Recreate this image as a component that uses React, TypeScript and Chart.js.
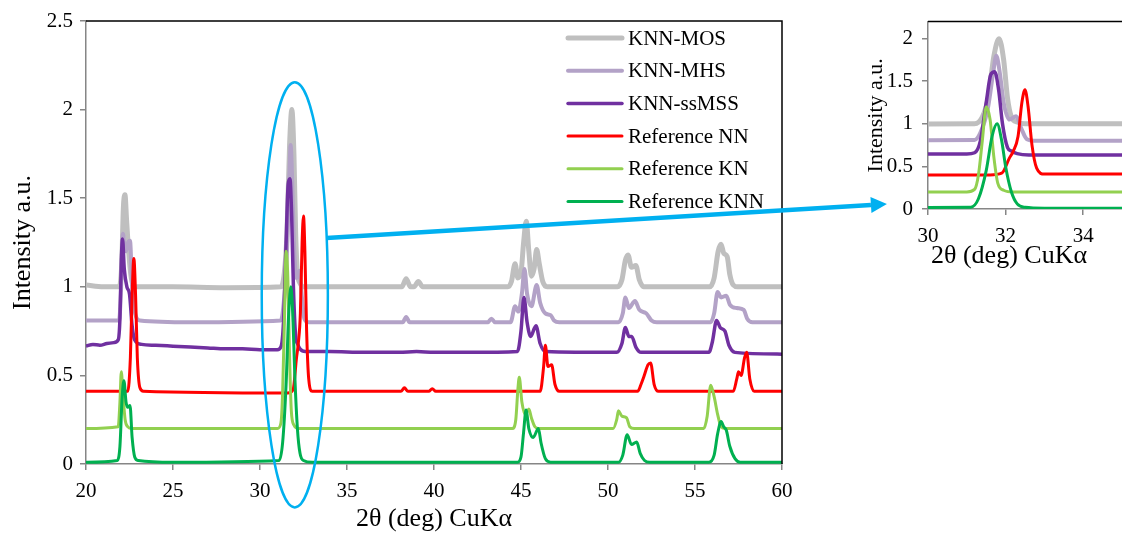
import React, { useEffect, useRef } from 'react';
import { Chart, registerables } from 'chart.js';
Chart.register(...registerables);

const FONT = "'Liberation Serif', 'Times New Roman', serif";

const seriesNames = ['KNN-MOS', 'KNN-MHS', 'KNN-ssMSS', 'Reference NN', 'Reference KN', 'Reference KNN'];
const seriesColors = ['#BFBFBF', '#B3A2C7', '#7030A0', '#FF0000', '#92D050', '#00B050'];
const seriesWidths = [5, 4, 3.5, 3, 3, 3];
const legendWidths = [5, 4, 3.5, 3, 3, 3];

const xTicksMain = [20, 25, 30, 35, 40, 45, 50, 55, 60];
const yTicksMain = [0, 0.5, 1, 1.5, 2, 2.5];
const xTicksInset = [30, 32, 34];
const yTicksInset = [0, 0.5, 1, 1.5, 2];

const knnMOS: [number, number][] = [
  [20, 1.01], [21, 1.0], [21.9, 1.0], [22.05, 1.12], [22.15, 1.45], [22.24, 1.52], [22.33, 1.38], [22.45, 1.2], [22.6, 1.05], [22.8, 1.0],
  [25, 1.0], [28, 0.995], [31.2, 1.0], [31.4, 1.08], [31.55, 1.3], [31.7, 1.8], [31.83, 2.0], [31.95, 1.75], [32.05, 1.3], [32.15, 1.08], [32.3, 1.02], [32.5, 1.0],
  [35, 1.0], [38.15, 1.0], [38.4, 1.045], [38.65, 1.0], [38.85, 1.0], [39.1, 1.03], [39.35, 1.0],
  [44.25, 1.0], [44.45, 1.03], [44.66, 1.13], [44.82, 1.05], [45.0, 1.08], [45.15, 1.25], [45.3, 1.37], [45.45, 1.2], [45.6, 1.06], [45.75, 1.1], [45.9, 1.21], [46.05, 1.13], [46.25, 1.03], [46.5, 1.0],
  [50.55, 1.0], [50.8, 1.04], [51.0, 1.15], [51.15, 1.18], [51.35, 1.11], [51.6, 1.12], [51.8, 1.04], [52.05, 1.0],
  [55.85, 1.0], [56.1, 1.05], [56.33, 1.2], [56.5, 1.24], [56.65, 1.19], [56.85, 1.17], [57.0, 1.07], [57.2, 1.01], [57.45, 1.0], [60, 1.0],
];

const knnMHS: [number, number][] = [
  [20, 0.81], [21.9, 0.81], [22.0, 0.95], [22.12, 1.3], [22.22, 1.22], [22.3, 1.2], [22.42, 1.25], [22.53, 1.26], [22.65, 1.0], [22.8, 0.86], [23.1, 0.81],
  [26, 0.8], [31.2, 0.81], [31.4, 0.95], [31.55, 1.2], [31.68, 1.6], [31.76, 1.8], [31.85, 1.6], [31.95, 1.25], [32.1, 1.05], [32.27, 1.09], [32.4, 0.95], [32.55, 0.82], [32.8, 0.8],
  [38.2, 0.8], [38.4, 0.83], [38.6, 0.8], [43.1, 0.8], [43.3, 0.82], [43.5, 0.8],
  [44.4, 0.8], [44.66, 0.89], [44.85, 0.86], [45.05, 0.96], [45.2, 1.1], [45.35, 0.96], [45.6, 0.89], [45.9, 1.01], [46.1, 0.91], [46.4, 0.85], [46.7, 0.84], [46.9, 0.81], [47.2, 0.8],
  [50.6, 0.8], [50.85, 0.85], [51.0, 0.94], [51.2, 0.88], [51.55, 0.92], [51.8, 0.87], [52.2, 0.85], [52.5, 0.81], [52.8, 0.8],
  [55.9, 0.8], [56.1, 0.85], [56.3, 0.97], [56.5, 0.94], [56.8, 0.95], [57.0, 0.9], [57.4, 0.88], [57.8, 0.87], [58.0, 0.82], [58.3, 0.8], [60, 0.8],
];

const knnSSMSS: [number, number][] = [
  [20, 0.665], [20.4, 0.675], [20.8, 0.67], [21.2, 0.68], [21.6, 0.685], [21.85, 0.7], [21.95, 0.82], [22.03, 1.15], [22.1, 1.27], [22.2, 1.1], [22.35, 1.0], [22.5, 0.96], [22.65, 0.78], [22.8, 0.7], [23.2, 0.675],
  [24, 0.67], [25, 0.665], [26, 0.66], [27, 0.655], [28, 0.65], [29, 0.65], [30, 0.645], [31.0, 0.645],
  [31.2, 0.66], [31.35, 0.8], [31.5, 1.25], [31.62, 1.58], [31.72, 1.61], [31.82, 1.4], [31.92, 1.0], [32.05, 0.72], [32.15, 0.68], [32.3, 0.65], [32.6, 0.635],
  [34, 0.635], [36, 0.63], [38, 0.63], [39, 0.635], [40, 0.63], [42, 0.63],
  [44.8, 0.635], [45.0, 0.75], [45.17, 0.94], [45.35, 0.8], [45.55, 0.72], [45.86, 0.78], [46.1, 0.68], [46.4, 0.635],
  [50.5, 0.63], [50.8, 0.68], [51.0, 0.77], [51.2, 0.72], [51.36, 0.72], [51.6, 0.66], [51.9, 0.63],
  [55.8, 0.63], [56.0, 0.69], [56.24, 0.81], [56.45, 0.77], [56.72, 0.75], [56.95, 0.67], [57.3, 0.63], [60, 0.62],
];

const refNN: [number, number][] = [
  [20, 0.41], [22.4, 0.41], [22.55, 0.6], [22.65, 0.95], [22.75, 1.16], [22.85, 0.95], [22.95, 0.6], [23.1, 0.43], [23.3, 0.41],
  [31.6, 0.4], [31.9, 0.42], [32.1, 0.6], [32.2, 0.68], [32.32, 0.85], [32.42, 1.25], [32.5, 1.4], [32.58, 1.2], [32.68, 0.75], [32.8, 0.48], [33.0, 0.41],
  [38.1, 0.41], [38.3, 0.43], [38.5, 0.41], [39.7, 0.41], [39.9, 0.425], [40.1, 0.41],
  [46.1, 0.41], [46.3, 0.55], [46.4, 0.67], [46.55, 0.55], [46.76, 0.56], [46.95, 0.45], [47.2, 0.41],
  [51.7, 0.41], [51.9, 0.45], [52.05, 0.49], [52.3, 0.56], [52.45, 0.57], [52.65, 0.45], [52.9, 0.41],
  [57.2, 0.41], [57.4, 0.48], [57.5, 0.52], [57.65, 0.5], [57.85, 0.6], [57.97, 0.63], [58.15, 0.48], [58.4, 0.41], [60, 0.41],
];

const refKN: [number, number][] = [
  [20, 0.2], [21.85, 0.21], [21.95, 0.35], [22.03, 0.52], [22.12, 0.4], [22.25, 0.25], [22.4, 0.21], [22.6, 0.2],
  [31.0, 0.2], [31.2, 0.23], [31.3, 0.4], [31.4, 0.8], [31.5, 1.2], [31.6, 1.05], [31.7, 0.6], [31.8, 0.3], [31.95, 0.22], [32.2, 0.2],
  [44.5, 0.2], [44.7, 0.25], [44.82, 0.42], [44.9, 0.49], [45.05, 0.35], [45.25, 0.28], [45.45, 0.31], [45.6, 0.26], [45.8, 0.21], [46.0, 0.2],
  [50.3, 0.2], [50.5, 0.25], [50.6, 0.3], [50.8, 0.27], [51.07, 0.26], [51.25, 0.21], [51.5, 0.2],
  [55.5, 0.2], [55.7, 0.27], [55.9, 0.445], [56.1, 0.38], [56.3, 0.28], [56.5, 0.21], [56.7, 0.2], [60, 0.2],
];

const refKNN: [number, number][] = [
  [20, 0.01], [21.8, 0.02], [21.95, 0.1], [22.08, 0.38], [22.18, 0.47], [22.3, 0.35], [22.4, 0.32], [22.53, 0.33], [22.65, 0.15], [22.8, 0.04], [23.0, 0.02], [25, 0.01],
  [31.1, 0.02], [31.3, 0.12], [31.5, 0.45], [31.65, 0.85], [31.78, 1.0], [31.9, 0.8], [32.0, 0.5], [32.15, 0.2], [32.3, 0.06], [32.5, 0.02], [33, 0.01],
  [44.8, 0.01], [45.0, 0.04], [45.15, 0.18], [45.29, 0.305], [45.45, 0.2], [45.7, 0.15], [46.0, 0.2], [46.15, 0.12], [46.4, 0.03], [46.7, 0.01],
  [50.6, 0.01], [50.85, 0.05], [51.1, 0.165], [51.35, 0.11], [51.65, 0.124], [51.85, 0.06], [52.1, 0.02], [52.4, 0.01],
  [55.8, 0.01], [56.1, 0.05], [56.3, 0.17], [56.5, 0.24], [56.65, 0.21], [56.8, 0.19], [57.0, 0.1], [57.3, 0.03], [57.6, 0.01], [60, 0.01],
];

const seriesData = [knnMOS, knnMHS, knnSSMSS, refNN, refKN, refKNN];

// annotation (data coordinates of the main chart)
const ellipseCenter = [32.0, 0.955];
const ellipseRadii = [1.9, 1.2];
const arrowFrom = [33.82, 1.275];
const arrowTo = [66.03, 1.467];

const AXIS_GRAY = '#868686';
const CALLOUT = '#00B0F0';

function makeDatasets() {
  return seriesNames.map((name, i) => ({
    label: name,
    data: seriesData[i].map(([x, y]) => ({ x, y })),
    borderColor: seriesColors[i],
    backgroundColor: seriesColors[i],
    borderWidth: seriesWidths[i],
    pointRadius: 0,
    fill: false,
    cubicInterpolationMode: 'monotone' as const,
    order: seriesNames.length - i,
  }));
}

function axisCommon(tickFontSize: number, pad: number) {
  return {
    type: 'linear' as const,
    grid: { display: true, drawOnChartArea: false, drawTicks: true, tickLength: 6, color: AXIS_GRAY, lineWidth: 1.5 },
    border: { display: true, color: AXIS_GRAY, width: 1.5 },
    ticks: {
      color: '#000',
      font: { family: FONT, size: tickFontSize },
      padding: pad,
      maxRotation: 0,
      autoSkip: false,
      callback: (v: any) => String(v),
    },
  };
}

const mainOverlay = {
  id: 'mainOverlay',
  afterDraw(chart: any) {
    const { ctx, chartArea, scales } = chart;
    const xs = scales.x, ys = scales.y;
    ctx.save();
    ctx.strokeStyle = '#000';
    ctx.lineWidth = 1.5;
    ctx.beginPath();
    ctx.moveTo(chartArea.left, chartArea.top);
    ctx.lineTo(chartArea.right, chartArea.top);
    ctx.lineTo(chartArea.right, chartArea.bottom);
    ctx.stroke();
    // legend
    const lx0 = 568, lx1 = 622, tx = 628;
    ctx.font = `21px ${FONT}`;
    ctx.textBaseline = 'middle';
    ctx.textAlign = 'left';
    seriesNames.forEach((name, i) => {
      const y = chartArea.top + 17 + i * 32.7;
      ctx.strokeStyle = seriesColors[i];
      ctx.lineWidth = legendWidths[i];
      ctx.lineCap = 'round';
      ctx.beginPath();
      ctx.moveTo(lx0, y);
      ctx.lineTo(lx1, y);
      ctx.stroke();
      ctx.fillStyle = '#000';
      ctx.fillText(name, tx, y + 1);
    });
    // ellipse
    const cx = xs.getPixelForValue(ellipseCenter[0]);
    const cy = ys.getPixelForValue(ellipseCenter[1]);
    const rx = xs.getPixelForValue(ellipseCenter[0] + ellipseRadii[0]) - cx;
    const ry = cy - ys.getPixelForValue(ellipseCenter[1] + ellipseRadii[1]);
    ctx.strokeStyle = CALLOUT;
    ctx.lineWidth = 2.5;
    ctx.lineCap = 'butt';
    ctx.beginPath();
    ctx.ellipse(cx, cy, rx, ry, 0, 0, Math.PI * 2);
    ctx.stroke();
    // arrow
    const ax0 = xs.getPixelForValue(arrowFrom[0]);
    const ay0 = ys.getPixelForValue(arrowFrom[1]);
    const ax1 = xs.getPixelForValue(arrowTo[0]);
    const ay1 = ys.getPixelForValue(arrowTo[1]);
    const ang = Math.atan2(ay1 - ay0, ax1 - ax0);
    const headLen = 16, headHalf = 8;
    const bx = ax1 - headLen * Math.cos(ang), by = ay1 - headLen * Math.sin(ang);
    ctx.lineWidth = 4.5;
    ctx.beginPath();
    ctx.moveTo(ax0, ay0);
    ctx.lineTo(bx, by);
    ctx.stroke();
    ctx.fillStyle = CALLOUT;
    ctx.beginPath();
    ctx.moveTo(ax1, ay1);
    ctx.lineTo(bx + headHalf * Math.sin(ang), by - headHalf * Math.cos(ang));
    ctx.lineTo(bx - headHalf * Math.sin(ang), by + headHalf * Math.cos(ang));
    ctx.closePath();
    ctx.fill();
    ctx.restore();
  },
};

const insetOverlay = {
  id: 'insetOverlay',
  afterDraw(chart: any) {
    const { ctx, chartArea } = chart;
    ctx.save();
    ctx.strokeStyle = '#000';
    ctx.lineWidth = 1.5;
    ctx.beginPath();
    ctx.moveTo(chartArea.left, chartArea.top);
    ctx.lineTo(chartArea.right, chartArea.top);
    ctx.stroke();
    ctx.fillStyle = '#000';
    ctx.font = `26px ${FONT}`;
    ctx.textAlign = 'center';
    ctx.textBaseline = 'middle';
    ctx.fillText('2θ (deg) CuKα', 159, 256);
    ctx.restore();
  },
};

export default function App() {
  const mainRef = useRef<HTMLCanvasElement>(null);
  const insetRef = useRef<HTMLCanvasElement>(null);

  useEffect(() => {
    const xMain = axisCommon(21, 9);
    const yMain = axisCommon(21, 7);
    const mainChart = new Chart(mainRef.current!, {
      type: 'line',
      data: { datasets: makeDatasets() as any },
      options: {
        responsive: false,
        animation: false,
        layout: { padding: { top: 21, right: 340, left: 0, bottom: 0 } },
        plugins: { legend: { display: false }, tooltip: { enabled: false } },
        scales: {
          x: {
            ...xMain,
            min: 20, max: 60,
            afterBuildTicks: (s: any) => { s.ticks = xTicksMain.map((v) => ({ value: v })); },
            afterFit: (s: any) => { s.height = 71; },
            title: { display: true, text: '2θ (deg) CuKα', color: '#000', font: { family: FONT, size: 26 }, padding: { top: 0, bottom: 0 } },
          },
          y: {
            ...yMain,
            min: 0, max: 2.5,
            afterBuildTicks: (s: any) => { s.ticks = yTicksMain.map((v) => ({ value: v })); },
            afterFit: (s: any) => { s.width = 86; },
            title: { display: true, text: 'Intensity a.u.', color: '#000', font: { family: FONT, size: 26 }, padding: { top: 8, bottom: 0 } },
          },
        },
      } as any,
      plugins: [mainOverlay],
    });

    const xIn = axisCommon(21, 9);
    const yIn = axisCommon(21, 9);
    const insetChart = new Chart(insetRef.current!, {
      type: 'line',
      data: { datasets: makeDatasets() as any },
      options: {
        responsive: false,
        animation: false,
        layout: { padding: { top: 7, right: 0, left: 0, bottom: 0 } },
        plugins: { legend: { display: false }, tooltip: { enabled: false } },
        scales: {
          x: {
            ...xIn,
            min: 30, max: 35,
            afterBuildTicks: (s: any) => { s.ticks = xTicksInset.map((v) => ({ value: v })); },
            afterFit: (s: any) => { s.height = 61; },
          },
          y: {
            ...yIn,
            min: 0, max: 2.2,
            afterBuildTicks: (s: any) => { s.ticks = yTicksInset.map((v) => ({ value: v })); },
            afterFit: (s: any) => { s.width = 78; },
            title: { display: true, text: 'Intensity a.u.', color: '#000', font: { family: FONT, size: 22 }, padding: { top: 13, bottom: 0 } },
          },
        },
      } as any,
      plugins: [insetOverlay],
    });

    return () => {
      mainChart.destroy();
      insetChart.destroy();
    };
  }, []);

  return (
    <div style={{ position: 'fixed', left: 0, top: 0, width: 1122, height: 535, background: '#fff' }}>
      <canvas ref={mainRef} width={1122} height={535} style={{ position: 'absolute', left: 0, top: 0, display: 'block' }} />
      <canvas ref={insetRef} width={272} height={270} style={{ position: 'absolute', left: 850, top: 0, display: 'block' }} />
    </div>
  );
}
